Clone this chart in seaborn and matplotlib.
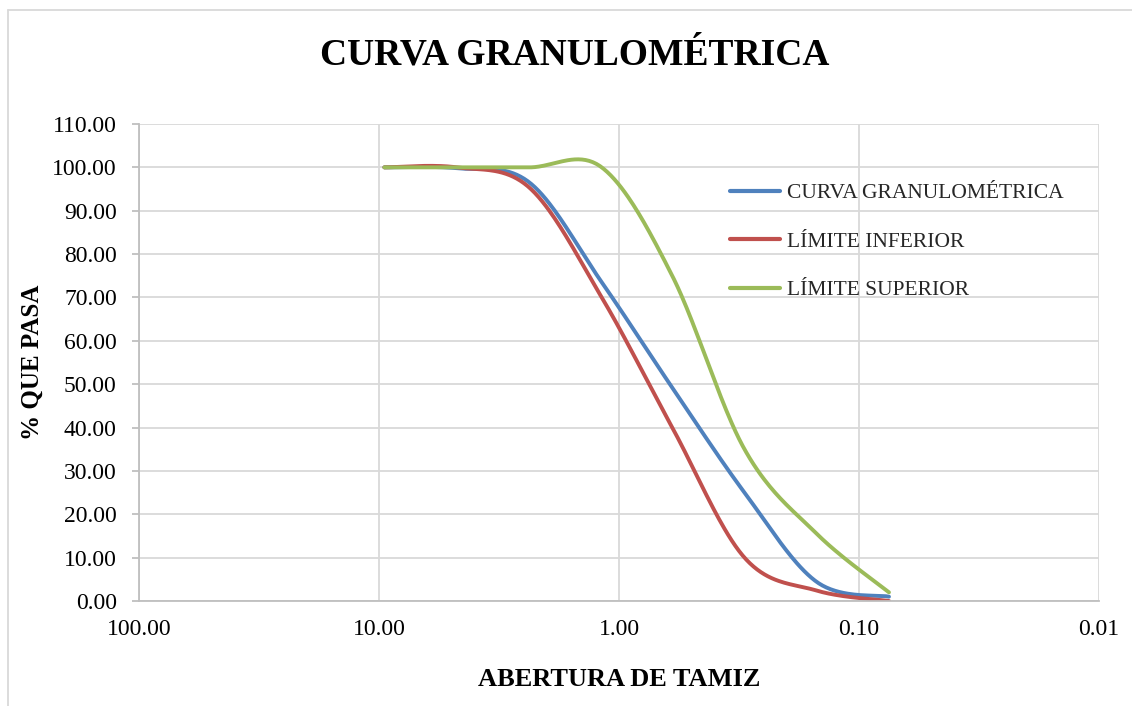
import numpy as np
import pandas as pd
import matplotlib
matplotlib.use("Agg")
import matplotlib.pyplot as plt
import seaborn as sns
from matplotlib.lines import Line2D
from matplotlib.ticker import FixedLocator, FixedFormatter, NullLocator

# ---- data ----
sieve_mm = [9.5, 4.75, 2.36, 1.18, 0.6, 0.3, 0.15, 0.075]
curva = [100.0, 99.8, 96.5, 73.5, 49.2, 25.0, 4.4, 1.0]
lim_inf = [100.0, 100.0, 95.3, 70.0, 40.0, 10.0, 2.4, 0.0]
lim_sup = [100.0, 100.0, 100.0, 100.0, 75.0, 35.0, 15.5, 2.0]
series_names = ["CURVA GRANULOMÉTRICA", "LÍMITE INFERIOR", "LÍMITE SUPERIOR"]
colors = ["#4F81BD", "#C0504D", "#9BBB59"]
x_ticks = [100, 10, 1, 0.1, 0.01]
x_tick_labels = ["100.00", "10.00", "1.00", "0.10", "0.01"]
y_ticks = list(range(0, 111, 10))


def excel_smooth(xs, ys, n=40):
    """Excel-like smoothed line (Catmull-Rom Bezier) in (log10 x, y) space."""
    P = np.column_stack([np.log10(xs), ys])
    P_ext = np.vstack([P[0], P, P[-1]])
    out = []
    for i in range(len(P) - 1):
        p0, p1, p2, p3 = P_ext[i], P_ext[i + 1], P_ext[i + 2], P_ext[i + 3]
        c1 = p1 + (p2 - p0) / 6.0
        c2 = p2 - (p3 - p1) / 6.0
        t = np.linspace(0, 1, n, endpoint=(i == len(P) - 2))[:, None]
        seg = ((1 - t) ** 3) * p1 + 3 * ((1 - t) ** 2) * t * c1 + 3 * (1 - t) * t ** 2 * c2 + t ** 3 * p2
        out.append(seg)
    out = np.vstack(out)
    return 10 ** out[:, 0], out[:, 1]


frames = []
for name, vals in zip(series_names, [curva, lim_inf, lim_sup]):
    sx, sy = excel_smooth(sieve_mm, vals)
    frames.append(pd.DataFrame({"x": sx, "y": sy, "serie": name}))
df = pd.concat(frames, ignore_index=True)

sns.set_theme(style="white")
plt.rcParams["font.family"] = ["Liberation Serif", "DejaVu Serif"]

fig = plt.figure(figsize=(11.32, 7.06), dpi=100)
ax = fig.add_axes([139 / 1132, 1 - 601 / 706, (1099 - 139) / 1132, (601 - 124) / 706])

sns.lineplot(data=df, x="x", y="y", hue="serie", palette=dict(zip(series_names, colors)),
             hue_order=series_names, sort=False, estimator=None,
             linewidth=2.8, legend=False, ax=ax)

ax.set_xscale("log")
ax.set_xlim(100, 0.01)
ax.set_ylim(0, 110)
ax.xaxis.set_major_locator(FixedLocator(x_ticks))
ax.xaxis.set_major_formatter(FixedFormatter(x_tick_labels))
ax.xaxis.set_minor_locator(NullLocator())
ax.set_yticks(y_ticks)
ax.set_yticklabels([f"{v:.2f}" for v in y_ticks])

grid_c = "#D9D9D9"
ax.grid(True, color=grid_c, linewidth=1.3)
ax.set_axisbelow(True)
for s in ["top", "right"]:
    ax.spines[s].set_visible(False)
for s in ["left", "bottom"]:
    ax.spines[s].set_color("#BFBFBF")
    ax.spines[s].set_linewidth(1.3)
ax.tick_params(axis="y", which="major", length=5, color="#BFBFBF", width=1.3, labelsize=17,
               pad=11, left=True, labelcolor="black")
ax.tick_params(axis="x", which="major", length=0, labelsize=17, pad=13, labelcolor="black")

ax.set_xlabel("ABERTURA DE TAMIZ", fontsize=19, fontweight="bold", labelpad=20, color="black")
ax.set_ylabel("% QUE PASA", fontsize=18, fontweight="bold", labelpad=6, color="black")

fig.text(575 / 1132, 1 - 55 / 706, "CURVA GRANULOMÉTRICA", ha="center", va="center",
         fontsize=27, fontweight="bold", color="black")

handles = [Line2D([0], [0], color=c, linewidth=3) for c in colors]
leg = fig.legend(handles, series_names, loc="upper left", bbox_to_anchor=(730 / 1132, 1 - 183 / 706),
                 frameon=False, fontsize=15.5, handlelength=2.3, handletextpad=0.33,
                 labelspacing=1.32, borderpad=0, borderaxespad=0)

# chart-area border
fig.add_artist(Line2D([8 / 1132, 1.0], [1 - 10 / 706, 1 - 10 / 706], transform=fig.transFigure,
                      color="#D9D9D9", linewidth=1.3))
fig.add_artist(Line2D([8 / 1132, 8 / 1132], [0, 1 - 10 / 706], transform=fig.transFigure,
                      color="#D9D9D9", linewidth=1.3))

fig.savefig("out.png", dpi=100, facecolor="white")
